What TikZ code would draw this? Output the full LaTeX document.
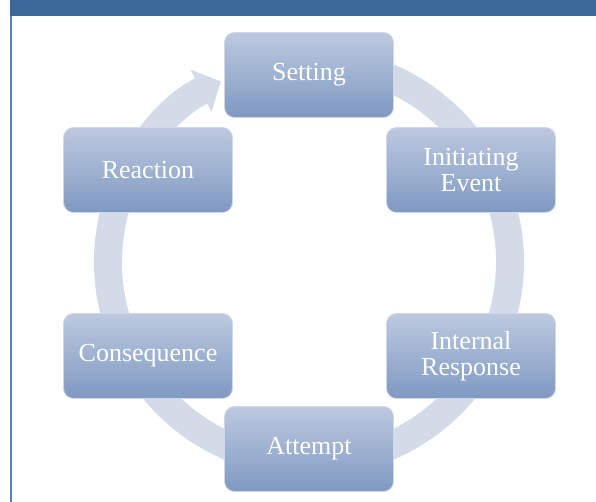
\documentclass[tikz,border=0pt]{standalone}
\usepackage{tikz}
\usepackage{fontspec}
\setmainfont{Liberation Serif}
\usetikzlibrary{positioning, arrows.meta, calc}

\definecolor{barblue}{HTML}{3A6898}
\definecolor{lineblue}{HTML}{4F81BD}
\definecolor{ringblue}{HTML}{D3DBE8}
\definecolor{boxtop}{HTML}{BDC9DF}
\definecolor{boxbot}{HTML}{7F99C2}
\definecolor{boxedge}{HTML}{D0D8E8}

\tikzset{
	stage/.style={rectangle, rounded corners=10pt, minimum width=169pt, minimum height=85pt,
		top color=boxtop, bottom color=boxbot, draw=boxedge, line width=0.8pt,
		text=white, align=center, font=\fontsize{26}{26}\selectfont, inner sep=2pt}
}

\begin{document}
\begin{tikzpicture}[x=1pt,y=1pt]
		\useasboundingbox (0,0) rectangle (596,502);
		
		%Title bar and left rule
		\fill[barblue] (10,486) rectangle (596,502);
		\draw[lineblue, line width=1.5pt] (10.8,0) -- (10.8,486);
		
		%Ring
		\coordinate (c) at (309,240);
		\draw[ringblue, line width=28pt, -{Triangle[width=46pt 0, length=22pt 0]}] 
		(c) ++(80:201) arc[start angle=80, end angle=-244, radius=201];
		
		%Stages
		\node[stage] (setting) at (309,427) {Setting};
		\node[stage] (initiating) at (471,332) {Initiating\\Event};
		\node[stage] (internal) at (471,146) {Internal\\Response};
		\node[stage] (attempt) at (309,53) {Attempt};
		\node[stage] (consequence) at (148,146) {Consequence};
		\node[stage] (reaction) at (148,332) {Reaction};
		
\end{tikzpicture}
\end{document}
